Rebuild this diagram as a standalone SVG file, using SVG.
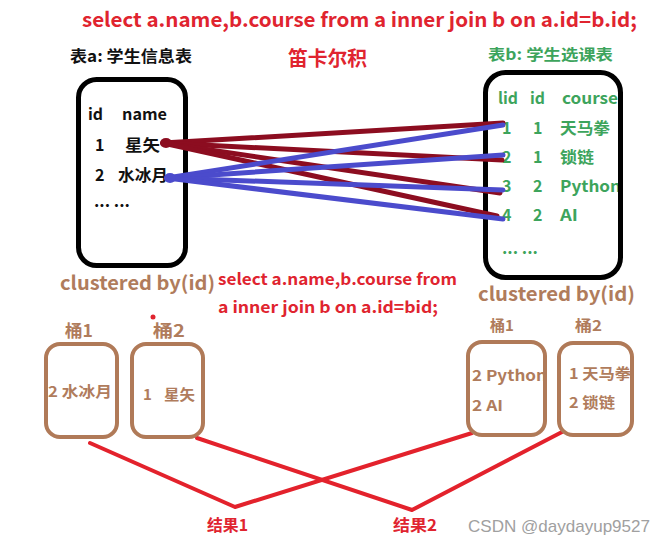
<svg xmlns="http://www.w3.org/2000/svg" width="666" height="544" viewBox="0 0 666 544">
<style>
  text { font-family: "Noto Sans CJK SC", "Noto Sans", sans-serif; font-weight: bold; }
  .red { fill: #e0242f; }
  .blk { fill: #111111; }
  .grn { fill: #3da45c; }
  .brn { fill: #b07c5c; }
  .tbl { fill: #ffffff; stroke: #000000; stroke-width: 5; }
  .bkt { fill: #ffffff; stroke: #b07a58; stroke-width: 4; }
  .lr { stroke: #8c0d20; stroke-width: 5; stroke-linecap: round; fill: none; }
  .lb { stroke: #4b4bcc; stroke-width: 5; stroke-linecap: round; fill: none; }
  .lj { stroke: #e3222c; stroke-width: 4; stroke-linecap: round; stroke-linejoin: round; fill: none; }
  .wm { font-family: "Liberation Sans", Arial, sans-serif; font-weight: normal; fill: #a0a0a0; }
</style>
<rect width="666" height="544" fill="#ffffff"/>

<g id="titles">
  <text class="red" x="82" y="27" font-size="20" textLength="555" lengthAdjust="spacingAndGlyphs">select a.name,b.course from a inner join b on a.id=b.id;</text>
  <text class="blk" x="70" y="62" font-size="16" textLength="122" lengthAdjust="spacingAndGlyphs">表a: 学生信息表</text>
  <text class="red" x="288" y="66" font-size="20" textLength="79" lengthAdjust="spacingAndGlyphs">笛卡尔积</text>
  <text class="grn" x="488" y="60" font-size="15" textLength="125" lengthAdjust="spacingAndGlyphs">表b: 学生选课表</text>
</g>

<g id="tableA">
  <rect class="tbl" x="78.5" y="79.5" width="107" height="186" rx="18"/>
  <g class="blk" font-size="16">
    <text x="88" y="120" textLength="15" lengthAdjust="spacingAndGlyphs">id</text>
    <text x="122" y="120" textLength="45" lengthAdjust="spacingAndGlyphs">name</text>
    <text x="95" y="151">1</text>
    <text x="125" y="151" textLength="35" lengthAdjust="spacingAndGlyphs">星矢</text>
    <text x="95" y="181">2</text>
    <text x="118" y="181" textLength="50" lengthAdjust="spacingAndGlyphs">水冰月</text>
    <text x="94" y="207" textLength="36" lengthAdjust="spacingAndGlyphs">... ...</text>
  </g>
</g>

<g id="tableB">
  <g class="grn" font-size="16">
    <text x="498" y="104" textLength="20" lengthAdjust="spacingAndGlyphs">lid</text>
    <text x="530" y="104" textLength="15" lengthAdjust="spacingAndGlyphs">id</text>
    <text x="562" y="104" textLength="56" lengthAdjust="spacingAndGlyphs">course</text>
    <text x="502" y="134">1</text><text x="533" y="134">1</text>
    <text x="560" y="134" textLength="50" lengthAdjust="spacingAndGlyphs">天马拳</text>
    <text x="502" y="163">2</text><text x="533" y="163">1</text>
    <text x="560" y="163" textLength="34" lengthAdjust="spacingAndGlyphs">锁链</text>
    <text x="502" y="192">3</text><text x="533" y="192">2</text>
    <text x="560" y="192" textLength="61" lengthAdjust="spacingAndGlyphs">Python</text>
    <text x="502" y="221">4</text><text x="533" y="221">2</text>
    <text x="560" y="221" textLength="18" lengthAdjust="spacingAndGlyphs">AI</text>
    <text x="502" y="254" textLength="36" lengthAdjust="spacingAndGlyphs">... ...</text>
  </g>
  <rect x="485.5" y="72.5" width="135" height="205" rx="20" fill="none" stroke="#000000" stroke-width="5"/>
</g>

<g id="connectors">
  <line class="lr" x1="163" y1="143" x2="503" y2="123"/>
  <line class="lr" x1="163" y1="143" x2="502" y2="160"/>
  <line class="lr" x1="163" y1="143" x2="500" y2="193"/>
  <line class="lr" x1="163" y1="143" x2="497" y2="216"/>
  <ellipse cx="166" cy="143" rx="6" ry="5" fill="#8c0d20"/>
  <line class="lb" x1="167" y1="178" x2="503" y2="125"/>
  <line class="lb" x1="167" y1="178" x2="503" y2="155"/>
  <line class="lb" x1="167" y1="178" x2="503" y2="190"/>
  <line class="lb" x1="167" y1="178" x2="503" y2="219"/>
  <ellipse cx="170" cy="178" rx="6" ry="5" fill="#4b4bcc"/>
  <polyline class="lj" points="90,443 235,507 472,433"/>
  <polyline class="lj" points="197,438 412,510 562,432"/>
</g>

<g id="labels">
  <text class="brn" x="60" y="290" font-size="19" textLength="155" lengthAdjust="spacingAndGlyphs">clustered by(id)</text>
  <text class="red" x="218" y="285" font-size="16" textLength="239" lengthAdjust="spacingAndGlyphs">select a.name,b.course from</text>
  <text class="red" x="218" y="313" font-size="16" textLength="220" lengthAdjust="spacingAndGlyphs">a inner join b on a.id=bid;</text>
  <text class="brn" x="478" y="301" font-size="19" textLength="157" lengthAdjust="spacingAndGlyphs">clustered by(id)</text>
  <circle cx="153" cy="317" r="2.5" fill="#e0242f"/>
</g>

<g id="bucketA1">
  <text class="brn" x="65" y="337" font-size="17" textLength="28" lengthAdjust="spacingAndGlyphs">桶1</text>
  <rect class="bkt" x="46" y="344" width="71" height="93" rx="14"/>
  <text class="brn" x="48" y="397" font-size="15" textLength="64" lengthAdjust="spacingAndGlyphs">2 水冰月</text>
</g>
<g id="bucketA2">
  <text class="brn" x="153" y="337" font-size="17" textLength="32" lengthAdjust="spacingAndGlyphs">桶2</text>
  <rect class="bkt" x="132" y="344" width="71" height="93" rx="14"/>
  <text class="brn" x="143" y="400" font-size="15">1</text>
  <text class="brn" x="164" y="400" font-size="15" textLength="31" lengthAdjust="spacingAndGlyphs">星矢</text>
</g>
<g id="bucketB1">
  <text class="brn" x="490" y="331" font-size="15" textLength="24" lengthAdjust="spacingAndGlyphs">桶1</text>
  <text class="brn" x="472" y="381" font-size="15" textLength="75" lengthAdjust="spacingAndGlyphs">2 Python</text>
  <text class="brn" x="472" y="411" font-size="15" textLength="31" lengthAdjust="spacingAndGlyphs">2 AI</text>
  <rect x="468" y="342" width="77" height="93" rx="14" fill="none" stroke="#b07a58" stroke-width="4"/>
</g>
<g id="bucketB2">
  <text class="brn" x="575" y="331" font-size="15" textLength="27" lengthAdjust="spacingAndGlyphs">桶2</text>
  <text class="brn" x="569" y="379" font-size="15" textLength="62" lengthAdjust="spacingAndGlyphs">1 天马拳</text>
  <text class="brn" x="569" y="408" font-size="15" textLength="46" lengthAdjust="spacingAndGlyphs">2 锁链</text>
  <rect x="559" y="343" width="73" height="92" rx="14" fill="none" stroke="#b07a58" stroke-width="4"/>
</g>

<g id="result1">
  <text class="red" x="207" y="531" font-size="16" textLength="41" lengthAdjust="spacingAndGlyphs">结果1</text>
</g>
<g id="result2">
  <text class="red" x="393" y="531" font-size="16" textLength="44" lengthAdjust="spacingAndGlyphs">结果2</text>
</g>

<text class="wm" x="468" y="532" font-size="17" textLength="182" lengthAdjust="spacingAndGlyphs">CSDN @daydayup9527</text>
</svg>
